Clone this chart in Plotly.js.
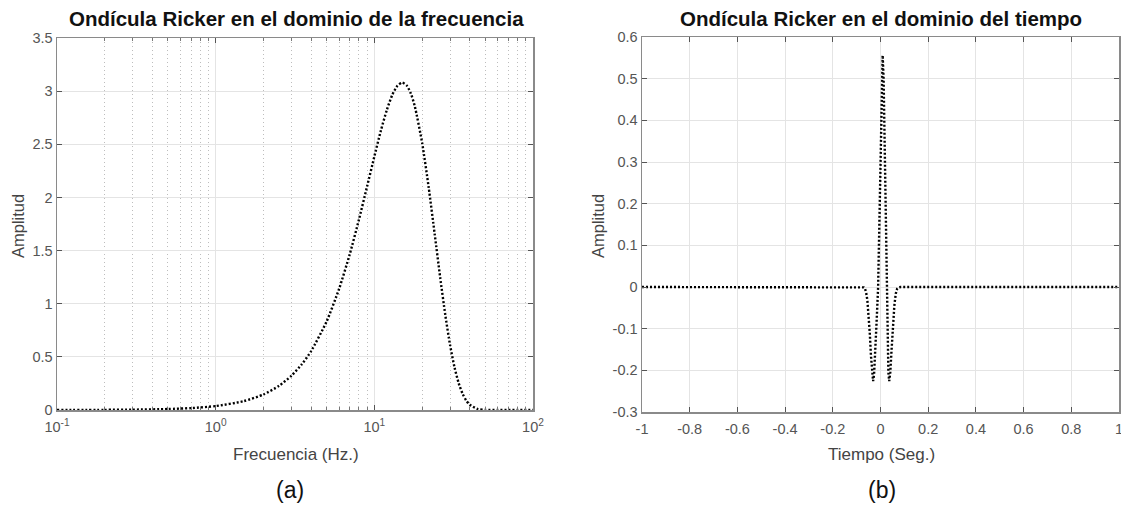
<!DOCTYPE html>
<html>
<head>
<meta charset="utf-8">
<script src="https://cdn.plot.ly/plotly-3.0.1.min.js"></script>
<style>html,body{margin:0;padding:0;background:#fff;}#chart{width:1121px;height:506px;}</style>
</head>
<body>
<div id="chart"></div>
<script>
// ---- Data ----
var freqHz = [0.1, 0.2, 0.3, 0.5, 0.7, 1, 1.5, 2, 2.5, 3, 3.5, 4, 5, 6, 7, 8, 9, 10, 11, 12, 13, 14, 15, 16, 17, 18, 20, 22, 24, 26, 28, 30, 32, 34, 36, 38, 40, 45, 50, 60, 70, 80, 100];
var freqAmp = [0.0004, 0.0015, 0.0033, 0.009, 0.018, 0.037, 0.083, 0.146, 0.226, 0.322, 0.432, 0.555, 0.832, 1.141, 1.466, 1.792, 2.103, 2.384, 2.63, 2.825, 2.968, 3.052, 3.08, 3.053, 2.977, 2.856, 2.515, 2.096, 1.657, 1.247, 0.895, 0.613, 0.402, 0.253, 0.152, 0.088, 0.049, 0.009, 0.0014, 0, 0, 0, 0];

var timeSec = [-1, -0.5, -0.08, -0.07, -0.065, -0.06, -0.055, -0.05, -0.045, -0.04, -0.035, -0.031, -0.027, -0.022, -0.016, -0.01, -0.004, 0.002, 0.006, 0.009, 0.013, 0.018, 0.025, 0.029, 0.033, 0.0365, 0.041, 0.046, 0.052, 0.058, 0.064, 0.07, 0.076, 0.085, 0.5, 1];
var timeAmp = [0, 0, 0, -0.001, -0.004, -0.014, -0.032, -0.062, -0.11, -0.165, -0.21, -0.226, -0.21, -0.16, -0.08, 0.0, 0.16, 0.36, 0.5, 0.556, 0.5, 0.33, 0.0, -0.13, -0.205, -0.226, -0.205, -0.155, -0.09, -0.045, -0.016, -0.004, -0.001, 0, 0, 0];

var freqTickVals = [0.1, 1, 10, 100];
var freqTickText = ['10<sup>-1</sup>', '10<sup>0</sup>', '10<sup>1</sup>', '10<sup>2</sup>'];
var ampTickVals = [0, 0.5, 1, 1.5, 2, 2.5, 3, 3.5];
var ampTickText = ['0', '0.5', '1', '1.5', '2', '2.5', '3', '3.5'];
var timeTickVals = [-1, -0.8, -0.6, -0.4, -0.2, 0, 0.2, 0.4, 0.6, 0.8, 1];
var timeTickText = ['-1', '-0.8', '-0.6', '-0.4', '-0.2', '0', '0.2', '0.4', '0.6', '0.8', '1'];
var tAmpTickVals = [-0.3, -0.2, -0.1, 0, 0.1, 0.2, 0.3, 0.4, 0.5, 0.6];
var tAmpTickText = ['-0.3', '-0.2', '-0.1', '0', '0.1', '0.2', '0.3', '0.4', '0.5', '0.6'];

var titleA = 'Ondícula Ricker en el dominio de la frecuencia';
var titleB = 'Ondícula Ricker en el dominio del tiempo';

// ---- Plot ----
var FONT = 'Liberation Sans, Arial, Helvetica, sans-serif';
var lineStyle = {color: '#000', width: 2.4, dash: '2px,2px'};
var traces = [
  {x: freqHz, y: freqAmp, xaxis: 'x', yaxis: 'y', mode: 'lines', line: Object.assign({shape: 'spline', smoothing: 0.6}, lineStyle), hoverinfo: 'skip'},
  {x: timeSec, y: timeAmp, xaxis: 'x2', yaxis: 'y2', mode: 'lines', line: lineStyle, hoverinfo: 'skip'}
];

var axisCommon = {
  showline: true, linecolor: '#8a8a8a', linewidth: 1.5, mirror: 'ticks',
  ticks: 'inside', ticklen: 5, tickcolor: '#555', tickwidth: 1,
  showgrid: true, gridcolor: '#e4e4e4', gridwidth: 1,
  zeroline: false, automargin: false, ticklabeloverflow: 'allow',
  tickfont: {family: FONT, size: 14.5, color: '#555'}
};
function ax(extra) { return Object.assign({}, axisCommon, extra); }

var W = 1121, H = 506;
var layout = {
  width: W, height: H,
  margin: {l: 0, r: 0, t: 0, b: 0},
  paper_bgcolor: '#fff', plot_bgcolor: '#fff',
  showlegend: false,
  xaxis: ax({type: 'log', domain: [57 / W, 533 / W], range: [-1, 2], anchor: 'y',
    tickmode: 'array', tickvals: freqTickVals, ticktext: freqTickText, ticklabelstandoff: 3,
    minor: {dtick: 'D1', showgrid: true, griddash: '1px,3px', gridcolor: '#bdbdbd', gridwidth: 1, ticks: 'inside', ticklen: 3, tickcolor: '#777'}}),
  yaxis: ax({domain: [1 - 410 / H, 1 - 38 / H], range: [0, 3.5], anchor: 'x',
    tickmode: 'array', tickvals: ampTickVals, ticktext: ampTickText}),
  xaxis2: ax({domain: [642 / W, 1119 / W], range: [-1, 1], anchor: 'y2',
    tickmode: 'array', tickvals: timeTickVals, ticktext: timeTickText, ticklabelstandoff: 3}),
  yaxis2: ax({domain: [1 - 412 / H, 1 - 37 / H], range: [-0.3, 0.6], anchor: 'x2',
    tickmode: 'array', tickvals: tAmpTickVals, ticktext: tAmpTickText}),
  annotations: [
    {text: '<b>' + titleA + '</b>', xref: 'paper', yref: 'paper', x: 296 / W, y: 1 - 18 / H, xanchor: 'center', yanchor: 'middle', showarrow: false, font: {family: FONT, size: 20.5, color: '#111'}},
    {text: '<b>' + titleB + '</b>', xref: 'paper', yref: 'paper', x: 881 / W, y: 1 - 18 / H, xanchor: 'center', yanchor: 'middle', showarrow: false, font: {family: FONT, size: 20.5, color: '#111'}},
    {text: 'Frecuencia (Hz.)', xref: 'paper', yref: 'paper', x: 296 / W, y: 1 - 454 / H, xanchor: 'center', yanchor: 'middle', showarrow: false, font: {family: FONT, size: 17, color: '#444'}},
    {text: 'Tiempo (Seg.)', xref: 'paper', yref: 'paper', x: 881 / W, y: 1 - 454 / H, xanchor: 'center', yanchor: 'middle', showarrow: false, font: {family: FONT, size: 17, color: '#444'}},
    {text: 'Amplitud', xref: 'paper', yref: 'paper', x: 18 / W, y: 1 - 226 / H, xanchor: 'center', yanchor: 'middle', textangle: -90, showarrow: false, font: {family: FONT, size: 16.5, color: '#444'}},
    {text: 'Amplitud', xref: 'paper', yref: 'paper', x: 598 / W, y: 1 - 226 / H, xanchor: 'center', yanchor: 'middle', textangle: -90, showarrow: false, font: {family: FONT, size: 16.5, color: '#444'}},
    {text: '(a)', xref: 'paper', yref: 'paper', x: 290 / W, y: 1 - 490 / H, xanchor: 'center', yanchor: 'middle', showarrow: false, font: {family: FONT, size: 23, color: '#111'}},
    {text: '(b)', xref: 'paper', yref: 'paper', x: 882 / W, y: 1 - 490 / H, xanchor: 'center', yanchor: 'middle', showarrow: false, font: {family: FONT, size: 23, color: '#111'}}
  ]
};

Plotly.newPlot('chart', traces, layout, {staticPlot: true, displayModeBar: false});
</script>
</body>
</html>
